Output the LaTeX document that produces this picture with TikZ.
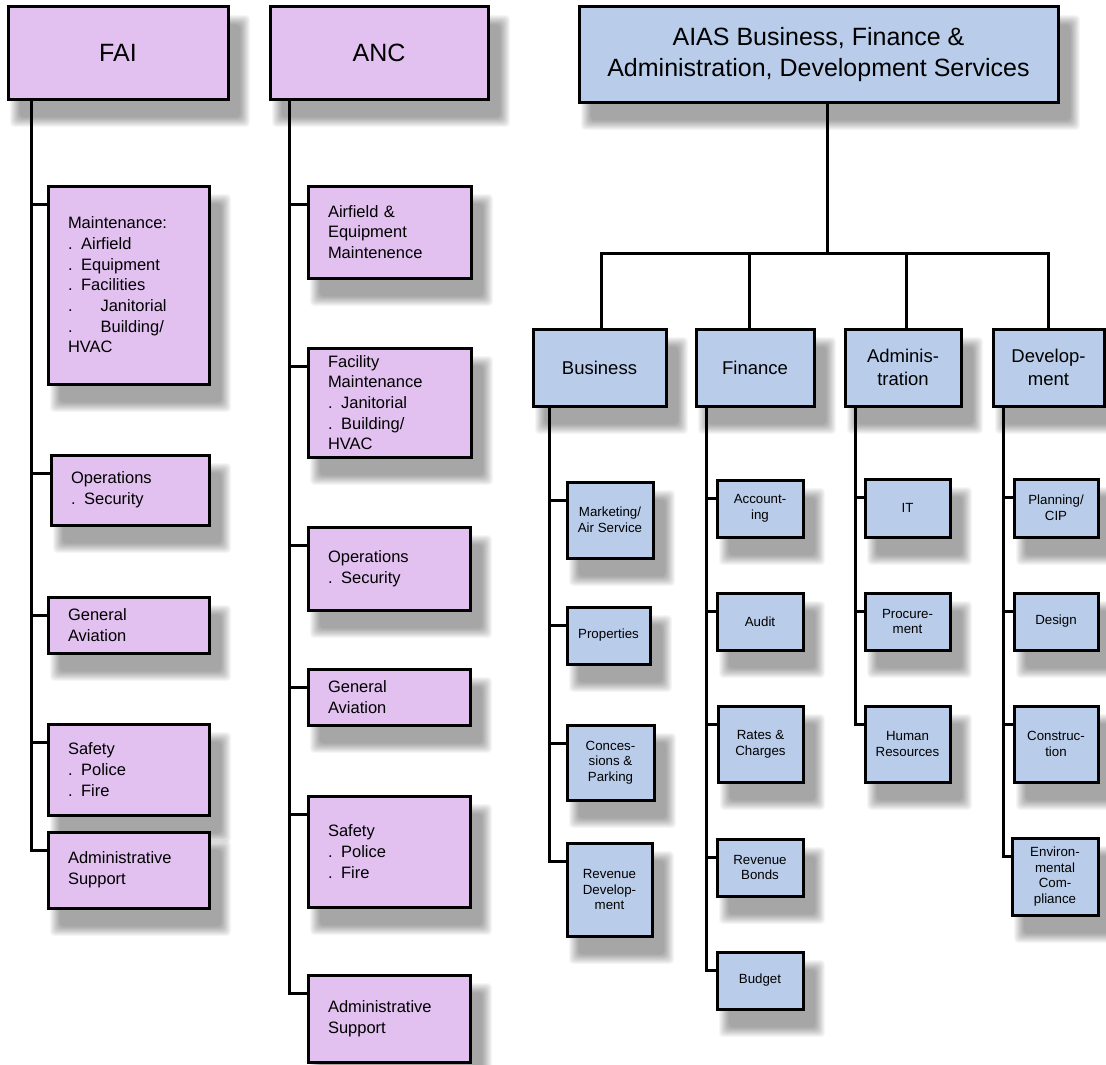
\documentclass[tikz,border=0pt]{standalone}
\usepackage{fontspec}
\setmainfont{Liberation Sans}
\usetikzlibrary{calc}
\pgfdeclarelayer{shadowlayer}
\pgfdeclarelayer{lineslayer}
\pgfsetlayers{shadowlayer,lineslayer,main}
\definecolor{purp}{HTML}{E2C1F0}
\definecolor{lblue}{HTML}{B9CDEA}
\tikzset{
  box/.style={draw=black, line width=3pt, inner sep=0pt, outer sep=0pt},
  pbox/.style={box, fill=purp},
  bbox/.style={box, fill=lblue},
  titletext/.style={font=\fontsize{25}{31}\selectfont, align=center},
  ptext/.style={font=\fontsize{16.5}{20.7}\selectfont, align=left},
  ltext/.style={font=\fontsize{18.5}{23}\selectfont, align=center},
  stext/.style={font=\fontsize{13.3}{15.7}\selectfont, align=center},
  link/.style={draw=black, line width=3pt}
}
% centred box: name, style, x1, y1, x2, y2, text
\newcommand\bx[7]{%
  \pgfmathsetmacro\bw{#5-#3}\pgfmathsetmacro\bh{#6-#4}%
  \node[#2, minimum width=\bw pt, minimum height=\bh pt] (#1) at ({(#3+#5)/2},{(#4+#6)/2}) {#7};%
  \coordinate (#1c) at ([yshift=-18pt]#1.north west);%
  \myshadow{#1}}
% left-aligned box
\newcommand\lbx[7]{%
  \pgfmathsetmacro\bw{#5-#3}\pgfmathsetmacro\bh{#6-#4}\pgfmathsetmacro\tw{#5-#3-40}%
  \node[#2, minimum width=\bw pt, minimum height=\bh pt, text width=\tw pt, inner xsep=20pt] (#1) at ({(#3+#5)/2},{(#4+#6)/2}) {#7};%
  \coordinate (#1c) at ([yshift=-18pt]#1.north west);%
  \myshadow{#1}}
\newcommand\myshadow[1]{%
  \begin{pgfonlayer}{shadowlayer}
  \foreach \k in {0,...,11}{
    \fill[black, opacity=0.036, rounded corners=4pt] ($(#1.north west)+({2+0.9*\k},{8+0.9*\k})$) rectangle ($(#1.south east)+({22-0.9*\k},{28-0.9*\k})$);
  }
  \end{pgfonlayer}}
\newcommand\stub[2]{\draw[link] (#1 |- #2c) -- (#2c);}
\newcommand\dt{.\hspace{8.5pt}}
\newcommand\dtt{.\hspace{28pt}}

\begin{document}
\begin{tikzpicture}[x=1pt, y=-1pt]
\useasboundingbox (0,0) rectangle (1106,1065);

% top boxes
\bx{fai}{pbox, titletext}{8}{7}{228}{99}{FAI}
\bx{anc}{pbox, titletext}{270}{7}{488}{99}{ANC}
\bx{aias}{bbox, titletext}{579}{7}{1058}{102}{AIAS Business, Finance \&\\Administration, Development Services}

% FAI children
\lbx{f1}{pbox, ptext}{48}{186}{209}{384}{Maintenance:\\\dt Airfield\\\dt Equipment\\\dt Facilities\\\dtt Janitorial\\\dtt Building/\\HVAC}
\lbx{f2}{pbox, ptext}{51}{455}{209}{525}{Operations\\\dt Security}
\lbx{f3}{pbox, ptext}{48}{597}{209}{653}{General\\Aviation}
\lbx{f4}{pbox, ptext}{48}{724}{209}{815}{Safety\\\dt Police\\\dt Fire}
\lbx{f5}{pbox, ptext}{48}{832}{209}{908}{Administrative\\Support}

% ANC children
\lbx{a1}{pbox, ptext}{308}{186}{471}{278}{Airfield \&\\Equipment\\Maintenence}
\lbx{a2}{pbox, ptext}{308}{348}{471}{457}{Facility\\Maintenance\\\dt Janitorial\\\dt Building/\\HVAC}
\lbx{a3}{pbox, ptext}{308}{527}{470}{610}{Operations\\\dt Security}
\lbx{a4}{pbox, ptext}{308}{669}{470}{725}{General\\Aviation}
\lbx{a5}{pbox, ptext}{308}{796}{470}{907}{Safety\\\dt Police\\\dt Fire}
\lbx{a6}{pbox, ptext}{308}{975}{470}{1062}{Administrative\\Support}

% level 2
\bx{bus}{bbox, ltext}{533}{329}{666}{406}{Business}
\bx{fin}{bbox, ltext}{696}{329}{814}{406}{Finance}
\bx{adm}{bbox, ltext}{845}{329}{961}{406}{Adminis-\\tration}
\bx{dev}{bbox, ltext}{993}{329}{1104}{406}{Develop-\\ment}

% business children
\bx{b1}{bbox, stext}{567}{482}{653}{558}{Marketing/\\Air Service}
\bx{b2}{bbox, stext}{567}{607}{650}{664}{Properties}
\bx{b3}{bbox, stext}{567}{725}{654}{800}{Conces-\\sions \&\\Parking}
\bx{b4}{bbox, stext}{567}{843}{652}{936}{Revenue\\Develop-\\ment}

% finance children
\bx{c1}{bbox, stext}{717}{480}{803}{537}{Account-\\ing}
\bx{c2}{bbox, stext}{717}{593}{803}{650}{Audit}
\bx{c3}{bbox, stext}{718}{706}{803}{782}{Rates \&\\Charges}
\bx{c4}{bbox, stext}{717}{839}{803}{896}{Revenue\\Bonds}
\bx{c5}{bbox, stext}{717}{952}{803}{1009}{Budget}

% administration children
\bx{d1}{bbox, stext}{865}{479}{950}{537}{IT}
\bx{d2}{bbox, stext}{865}{593}{950}{650}{Procure-\\ment}
\bx{d3}{bbox, stext}{865}{706}{950}{782}{Human\\Resources}

% development children
\bx{e1}{bbox, stext}{1014}{479}{1098}{537}{Planning/\\CIP}
\bx{e2}{bbox, stext}{1014}{593}{1098}{650}{Design}
\bx{e3}{bbox, stext}{1014}{706}{1098}{782}{Construc-\\tion}
\bx{e4}{bbox, stext}{1012}{838}{1098}{915}{Environ-\\mental\\Com-\\pliance}

\begin{pgfonlayer}{lineslayer}
% FAI trunk
\coordinate (ft) at (31,0);
\draw[link] (fai.south -| ft) -- (ft |- f5c) -- (f5c);
\stub{ft}{f1}\stub{ft}{f2}\stub{ft}{f3}\stub{ft}{f4}
% ANC trunk
\coordinate (at) at (289,0);
\draw[link] (anc.south -| at) -- (at |- a6c) -- (a6c);
\stub{at}{a1}\stub{at}{a2}\stub{at}{a3}\stub{at}{a4}\stub{at}{a5}
% AIAS tree
\coordinate (bar) at (827,253);
\draw[link] (aias.south -| bar) -- (bar);
\draw[link] ([xshift=1.5pt]bus.north) |- (bar) -| (dev.north);
\draw[link] ([xshift=-6pt]fin.north) -- ([xshift=-6pt]fin.north |- bar);
\draw[link] ([xshift=3pt]adm.north) -- ([xshift=3pt]adm.north |- bar);
% business trunk
\coordinate (bt) at (549,0);
\draw[link] (bus.south -| bt) -- (bt |- b4c) -- (b4c);
\stub{bt}{b1}\stub{bt}{b2}\stub{bt}{b3}
% finance trunk
\coordinate (ct) at (706,0);
\draw[link] (fin.south -| ct) -- (ct |- c5c) -- (c5c);
\stub{ct}{c1}\stub{ct}{c2}\stub{ct}{c3}\stub{ct}{c4}
% administration trunk
\coordinate (dt) at (855,0);
\draw[link] (adm.south -| dt) -- (dt |- d3c) -- (d3c);
\stub{dt}{d1}\stub{dt}{d2}
% development trunk
\coordinate (et) at (1003,0);
\draw[link] (dev.south -| et) -- (et |- e4c) -- (e4c);
\stub{et}{e1}\stub{et}{e2}\stub{et}{e3}
\end{pgfonlayer}
\end{tikzpicture}
\end{document}
